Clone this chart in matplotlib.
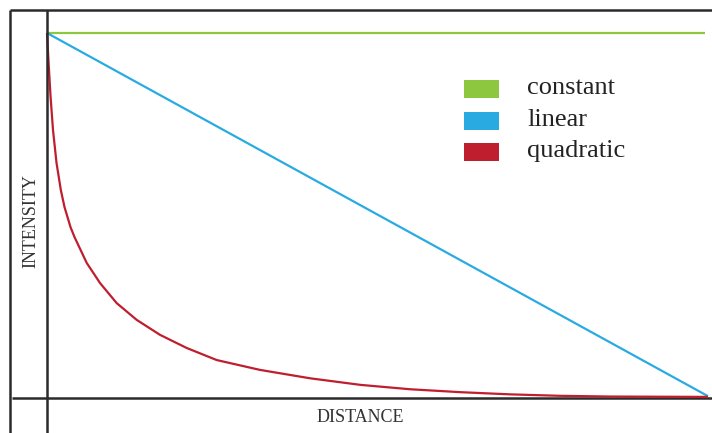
#!/usr/bin/env python3
"""Falloff of light intensity with distance: constant, linear, quadratic."""
import matplotlib
matplotlib.use("Agg")
import matplotlib.pyplot as plt
from matplotlib.patches import Rectangle

W, H = 712, 433

# values (distance and intensity both normalised 0..1)
const_x = [0.0, 0.995]
const_y = [1.0, 1.0]

linear_x = [0.0, 1.0]
linear_y = [1.0, 0.005]

quad_x = [0.0, 0.0024, 0.0054, 0.0091, 0.0144, 0.0209, 0.0265, 0.0356,
          0.0416, 0.0601, 0.0802, 0.1054, 0.1357, 0.171, 0.2114, 0.2567,
          0.3222, 0.398, 0.474, 0.549, 0.625, 0.700, 0.776, 0.852, 1.0]
quad_y = [1.0, 0.918, 0.825, 0.734, 0.644, 0.570, 0.523, 0.468,
          0.441, 0.370, 0.315, 0.260, 0.214, 0.173, 0.137, 0.104,
          0.077, 0.054, 0.036, 0.024, 0.016, 0.010, 0.006, 0.004, 0.003]

names = ["constant", "linear", "quadratic"]
COLORS = ["#8dc63f", "#29abe2", "#be1e2d"]
AXIS = "#2b2b2b"

plt.rcParams["font.family"] = ["Liberation Serif", "DejaVu Serif"]

fig = plt.figure(figsize=(W / 100, H / 100), dpi=100)
ax = fig.add_axes([0, 0, 1, 1])

# map pixels: distance 0 at x=47, 1 at x=708; intensity 0 at y=398, 1 at y=33
def px(x):
    return (x - 47) / 661

def py(y):
    return (398 - y) / 365

ax.set_xlim(px(0), px(W))
ax.set_ylim(py(H), py(0))
ax.axis("off")

for xs, ys, c in zip([const_x, linear_x, quad_x], [const_y, linear_y, quad_y], COLORS):
    ax.plot(xs, ys, color=c, lw=1.6, solid_capstyle="butt", solid_joinstyle="round", zorder=3)

# frame and axes lines
ax.plot([px(10), px(10)], [py(10), py(H)], color=AXIS, lw=1.8, solid_capstyle="butt")
ax.plot([px(10), px(W)], [py(10), py(10)], color=AXIS, lw=1.8, solid_capstyle="butt")
ax.plot([0, 0], [py(10), py(H)], color=AXIS, lw=1.8, solid_capstyle="butt", zorder=4)
ax.plot([px(12), px(W)], [0, 0], color=AXIS, lw=1.8, solid_capstyle="butt", zorder=2)

# legend drawn by hand
for i, (name, c) in enumerate(zip(names, COLORS)):
    top = 80 + i * 31.5
    fig.add_artist(Rectangle((464 / W, 1 - (top + 18) / H), 35 / W, 18 / H,
                             transform=fig.transFigure, color=c, lw=0))
    fig.text(527 / W, 1 - (top + 8) / H, name, fontsize=19, color="#222222",
             ha="left", va="center")

fig.text(360 / W, 1 - 417 / H, "DISTANCE", fontsize=13, color="#333333",
         ha="center", va="center")
fig.text(31 / W, 1 - 221 / H, "INTENSITY", fontsize=13, color="#333333",
         ha="center", va="center", rotation=90)

fig.savefig("out.png", dpi=100)
